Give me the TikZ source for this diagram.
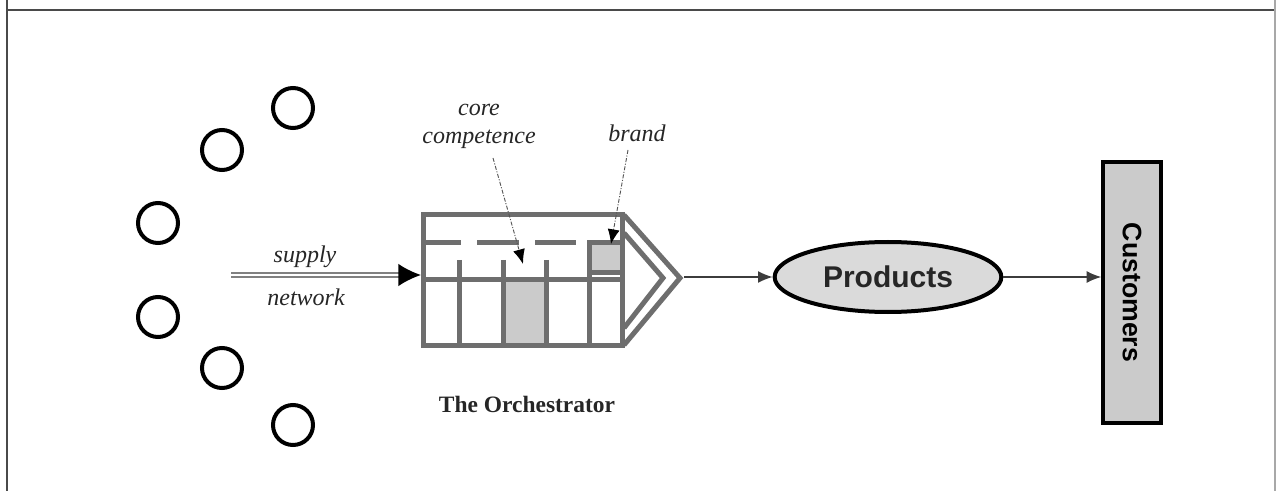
\documentclass[tikz,border=0pt]{standalone}
\usepackage{fontspec}
\setmainfont{Liberation Serif}
\setsansfont{Liberation Sans}
\usetikzlibrary{arrows.meta,shapes.geometric}

\definecolor{frameline}{HTML}{4A4A4A}
\definecolor{frameright}{HTML}{A8A8A8}
\definecolor{wallgray}{HTML}{6E6E6E}
\definecolor{boxfill}{HTML}{CBCBCB}
\definecolor{prodfill}{HTML}{DADADA}
\definecolor{leadergray}{HTML}{555555}
\definecolor{flowgray}{HTML}{3C3C3C}
\definecolor{inkgray}{HTML}{262626}

\begin{document}
\begin{tikzpicture}[x=0.75pt,y=-0.75pt,
  partner/.style={circle,draw=black,line width=3pt,minimum size=30pt,inner sep=0pt},
  wall/.style={draw=wallgray,line width=3.75pt},
  flow/.style={draw=flowgray,line width=1.1pt,-{Latex[length=11pt,width=9pt]}},
  supplyline/.style={draw=gray,line width=1.5pt,double=white,double distance=1pt,
    -{Latex[length=17pt,width=17pt,color=black]}},
  leader/.style={draw=leadergray,line width=0.7pt,
    dash pattern=on 3pt off 1.2pt on 0.8pt off 1.2pt,
    -{Latex[length=11pt,width=9pt,color=black]}},
  labeltext/.style={font=\fontsize{18}{21}\selectfont\itshape,text=inkgray,inner sep=0pt,align=center},
  caption/.style={font=\fontsize{17.6}{20}\selectfont\bfseries,text=inkgray,inner sep=0pt}
]
\useasboundingbox (0,0) rectangle (1276,491);

% frame lines
\draw[frameline,line width=1.6pt] (7,10) -- (1276,10);
\draw[frameline,line width=1.2pt] (7,0) -- (7,491);
\draw[frameright,line width=1.2pt] (1275,0) -- (1275,491);

% partner firms of the supply network
\node[partner] (p1) at (293,108) {};
\node[partner] (p2) at (222,150) {};
\node[partner] (p3) at (158,223) {};
\node[partner] (p4) at (158,317) {};
\node[partner] (p5) at (222,368) {};
\node[partner] (p6) at (293,425) {};

% the orchestrator body
\draw[wall] (423,215) rectangle (622,345);
\draw[wall] (423,280) -- (622,280);
\draw[wall] (423,243) -- (461,243) (477,243) -- (519,243) (535,243) -- (576,243);
\draw[wall] (459,260) -- (459,345) (546,260) -- (546,345);
\draw[wall,fill=boxfill] (503,260) -- (503,345) -- (546,345) -- (546,280) -- (503,280);
\draw[wall,fill=boxfill] (589,243) rectangle (622,273);
\draw[wall] (589,273) -- (589,345);
\draw[wall,line join=miter] (624,215) -- (680,278) -- (624,345);
\draw[wall,line join=miter] (624,233) -- (663,278) -- (624,328);
\coordinate (orchIn) at (421,275);
\coordinate (orchOut) at (684,277);

% supply network input
\coordinate (supplyStart) at (231,275);
\draw[supplyline] (supplyStart) -- (orchIn);
\node[labeltext] (supply) at (305,257) {supply};
\node[labeltext] (network) at (306,297) {network};

% annotations
\node[labeltext] (core) at (479,126) {core\\competence};
\coordinate (coreFoot) at (493,158);
\coordinate (coreTip) at (523,264);
\draw[leader] (coreFoot) -- (coreTip);
\node[labeltext] (brand) at (637,133) {brand};
\coordinate (brandFoot) at (628,150);
\coordinate (brandTip) at (611,244);
\draw[leader] (brandFoot) -- (brandTip);

\node[caption] (orch) at (527,404) {The Orchestrator};

% products and customers
\node[ellipse,draw=black,line width=3pt,fill=prodfill,minimum width=170pt,
  minimum height=52.5pt,inner sep=0pt,
  font=\sffamily\bfseries\fontsize{22.5}{24}\selectfont,text=inkgray] (prod) at (888,277) {Products};
\node[draw=black,line width=2.6pt,fill=boxfill,minimum width=43.5pt,
  minimum height=195.75pt,inner sep=0pt] (cust) at (1132,292.5) {};
\node[rotate=-90,font=\sffamily\bfseries\fontsize{20}{22}\selectfont,text=black,inner sep=0pt]
  (custText) at (cust.center) {Customers};

\draw[flow] (orchOut) -- (prod.west);
\draw[flow] (prod.east) -- (prod.east -| cust.west);
\end{tikzpicture}
\end{document}
